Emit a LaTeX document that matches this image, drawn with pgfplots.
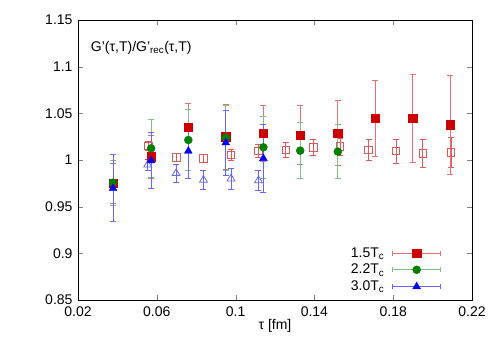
\documentclass[border=0pt]{standalone}
\usepackage{fontspec}
\setmainfont{Liberation Sans}
\usepackage{pgfplots}
\pgfplotsset{compat=1.18}

\definecolor{cred}{RGB}{204,0,0}
\definecolor{cgreen}{RGB}{0,128,0}
\definecolor{cblue}{RGB}{0,0,255}
\colorlet{errred}{cred!55!white}
\colorlet{errgreen}{cgreen!50!white}
\colorlet{errblue}{cblue!60!white}
\colorlet{openred}{cred!65!white}
\colorlet{openblue}{cblue!60!white}
\newcommand\fs{\fontsize{14pt}{16pt}\selectfont}

\pgfplotsset{
  errleg/.style={legend image code/.code={%
    \draw[#1,line width=0.8pt] (0pt,0pt)--(48pt,0pt)
      (0pt,-2.5pt)--(0pt,2.5pt) (48pt,-2.5pt)--(48pt,2.5pt);
    \draw[##1] plot coordinates {(24pt,0pt)};}},
  ebar/.style={error bars/.cd, y dir=both, y explicit,
    error bar style={#1,line width=0.8pt},
    error mark options={#1,line width=0.8pt,mark size=3pt,rotate=90},
    /pgfplots/.cd},
}

\begin{document}
\begin{tikzpicture}
\useasboundingbox (0pt,0pt) rectangle (500pt,350pt);
\begin{axis}[
  at={(78pt,50pt)}, anchor=south west,
  width=394pt, height=280pt, scale only axis,
  xmin=0.02, xmax=0.22, ymin=0.85, ymax=1.15,
  xtick={0.02,0.06,0.1,0.14,0.18,0.22},
  ytick={0.85,0.9,0.95,1,1.05,1.1,1.15},
  tick align=inside, major tick length=5pt,
  axis line style={black, line width=0.8pt},
  /pgf/number format/.cd, fixed, precision=2, assume math mode=true,
  /pgfplots/.cd,
  tick label style={font=\fs},
  xticklabel style={yshift=-3pt},
  yticklabel style={xshift=-2pt},
  xlabel={τ [fm]}, xlabel style={font=\fs, yshift=4pt},
  legend style={draw=none, fill=none, font=\fs,
    at={(axis cs:0.2044,0.856)}, anchor=south east,
    inner sep=0pt, row sep=1.5pt, column sep=6pt},
  legend plot pos=right, legend cell align=right,
]
% open squares
\addplot[openred, only marks, mark=square, mark size=3.8pt,
  mark options={line width=0.8pt}, ebar=openred, forget plot]
  table[x=t, y=g, y error=e] {
t g e
0.0557 1.0150 0.005
0.0698 1.0029 0.004
0.0837 1.0018 0.004
0.0977 1.0054 0.006
0.1116 1.0096 0.007
0.1255 1.0107 0.008
0.1395 1.0136 0.0085
0.1530 1.0143 0.009
0.1675 1.0107 0.011
0.1814 1.0096 0.013
0.1950 1.0071 0.015
0.2093 1.0079 0.016
};
% open triangles
\addplot[openblue, only marks, mark=triangle, mark size=4.5pt,
  mark options={line width=0.8pt}, ebar=openblue, forget plot]
  table[x=t, y=g, y error=e] {
t g e
0.0554 0.9950 0.006
0.0698 0.9857 0.010
0.0837 0.9786 0.010
0.0977 0.9800 0.011
0.1116 0.9780 0.011
};
% 1.5 Tc
\addplot[cred, only marks, mark=square*, mark size=4.2pt,
  ebar=errred, errleg=errred]
  table[x=t, y=g, y error=e] {
t g e
0.0378 0.9750 0.021
0.0571 1.0036 0.023
0.0760 1.0350 0.026
0.0950 1.0250 0.035
0.1141 1.0286 0.030
0.1328 1.0268 0.032
0.1519 1.0290 0.035
0.1709 1.0446 0.041
0.1898 1.0446 0.047
0.2089 1.0380 0.053
};
\addlegendentry{1.5T\textsubscript{c}}
% 2.2 Tc
\addplot[cgreen, only marks, mark=*, mark size=4pt,
  ebar=errgreen, errleg=errgreen]
  table[x=t, y=g, y error=e] {
t g e
0.0378 0.9757 0.024
0.0571 1.0125 0.031
0.0760 1.0214 0.033
0.0950 1.0240 0.035
0.1141 1.0136 0.033
0.1328 1.0100 0.030
0.1519 1.0090 0.029
};
\addlegendentry{2.2T\textsubscript{c}}
% 3.0 Tc
\addplot[cblue, only marks, mark=triangle*, mark size=4.5pt,
  ebar=errblue, errleg=errblue]
  table[x=t, y=g, y error=e] {
t g e
0.0378 0.9697 0.036
0.0571 0.9993 0.030
0.0760 1.0096 0.029
0.0950 1.0186 0.035
0.1141 1.0018 0.036
};
\addlegendentry{3.0T\textsubscript{c}}

\node[anchor=west, font=\fs] at (axis cs:0.0248,1.12)
  {G’(τ,T)/G’\textsubscript{rec}(τ,T)};
\end{axis}
\end{tikzpicture}
\end{document}
